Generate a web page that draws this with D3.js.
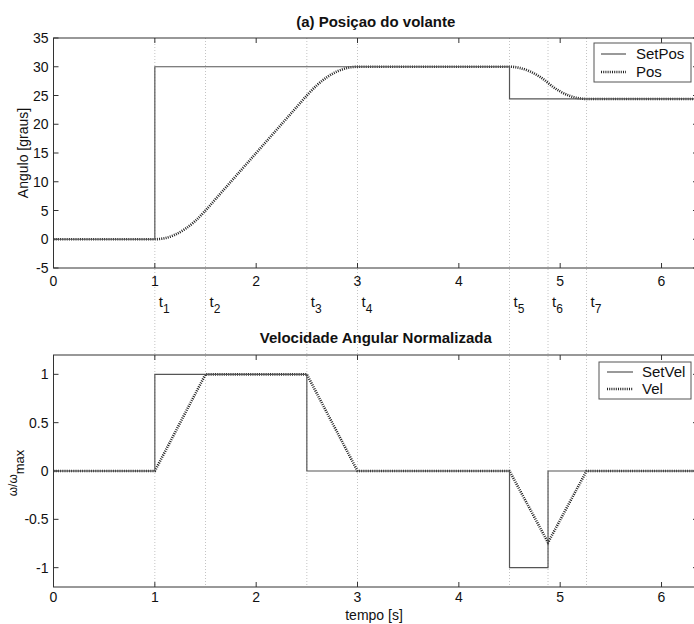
<!DOCTYPE html>
<html><head><meta charset="utf-8">
<script src="https://cdn.jsdelivr.net/npm/d3@7"></script>
<style>body{margin:0;background:#fff}svg{display:block;font-family:"Liberation Sans",Arial,sans-serif}</style>
</head><body><svg id="c" width="694" height="624"></svg>
<script>
// ---- data ----
const xTicks = [0,1,2,3,4,5,6];
const posTicks = [-5,0,5,10,15,20,25,30,35];
const velTicks = [-1,-0.5,0,0.5,1];
const markTimes = [1,1.5,2.5,3,4.5,4.88,5.26];
const markLabels = ["1","2","3","4","5","6","7"];

const setPosTime = [0,1,1,4.5,4.5,6.4];
const setPosVal  = [0,0,30,30,24.4,24.4];
const posTime = [0,1,1.1,1.2,1.3,1.4,1.5,1.6,1.7,1.8,1.9,2.0,2.1,2.2,2.3,2.4,2.5,2.6,2.7,2.8,2.9,3.0,4.5,4.6,4.7,4.8,4.88,4.9,5.0,5.1,5.2,5.26,6.4];
const posVal  = [0,0,0.2,0.8,1.8,3.2,5,7,9,11,13,15,17,19,21,23,25,26.8,28.2,29.2,29.8,30,30,29.8,29.2,28.25,27.2,26.9,25.7,24.9,24.47,24.4,24.4];

const setVelTime = [0,1,1,2.5,2.5,4.5,4.5,4.88,4.88,6.4];
const setVelVal  = [0,0,1,1,0,0,-1,-1,0,0];
const velTime = [0,1,1.5,2.5,3,4.5,4.88,5.26,6.4];
const velVal  = [0,0,1,1,0,0,-0.74,0,0];

const svg = d3.select("#c");
const L = 53.5, R = 698;
const x = d3.scaleLinear().domain([0,6.36]).range([L,R]);
const yTop = d3.scaleLinear().domain([-5,35]).range([268,38]);
const yBot = d3.scaleLinear().domain([-1.2,1.2]).range([587,355]);

const axisColor = "#333";
const fs = 14;

// vertical dotted marks across both panels
svg.append("g").selectAll("line").data(markTimes).join("line")
  .attr("x1",d=>x(d)).attr("x2",d=>x(d)).attr("y1",38).attr("y2",587)
  .attr("stroke","#c4c4c4").attr("stroke-width",1).attr("stroke-dasharray","1,2");

// t labels
const tl = svg.append("g").selectAll("text").data(markTimes).join("text")
  .attr("x",d=>x(d)+4).attr("y",307).attr("font-size",15).attr("fill","#111");
tl.append("tspan").text("t");
tl.append("tspan").attr("dy",6).attr("font-size",12).text((d,i)=>markLabels[i]);

function panel(y, ticks, fmt, top, bottom, labOff){
  const g = svg.append("g");
  g.append("rect").attr("x",L).attr("y",top).attr("width",R-L).attr("height",bottom-top)
    .attr("fill","none").attr("stroke",axisColor).attr("stroke-width",1);
  xTicks.forEach(t=>{
    g.append("line").attr("x1",x(t)).attr("x2",x(t)).attr("y1",bottom).attr("y2",bottom-5).attr("stroke",axisColor);
    g.append("line").attr("x1",x(t)).attr("x2",x(t)).attr("y1",top).attr("y2",top+5).attr("stroke",axisColor);
  });
  ticks.forEach(t=>{
    g.append("line").attr("x1",L).attr("x2",L+5).attr("y1",y(t)).attr("y2",y(t)).attr("stroke",axisColor);
    g.append("line").attr("x1",R).attr("x2",R-5).attr("y1",y(t)).attr("y2",y(t)).attr("stroke",axisColor);
  });
  g.append("g").selectAll("text").data(xTicks).join("text")
    .attr("x",d=>x(d)).attr("y",bottom+labOff).attr("text-anchor","middle").attr("font-size",fs).attr("fill","#111")
    .text(d=>d);
  g.append("g").selectAll("text").data(ticks).join("text")
    .attr("x",L-5).attr("y",d=>y(d)).attr("dy","0.36em").attr("text-anchor","end").attr("font-size",fs).attr("fill","#111")
    .text(fmt);
  return g;
}
panel(yTop, posTicks, d=>d, 38, 268, 18);
panel(yBot, velTicks, d=>String(d), 355, 587, 15);

// clip paths
const defs = svg.append("defs");
defs.append("clipPath").attr("id","cpT").append("rect").attr("x",L).attr("y",38).attr("width",R-L).attr("height",230);
defs.append("clipPath").attr("id","cpB").append("rect").attr("x",L).attr("y",355).attr("width",R-L).attr("height",232);

function drawLine(ts, vs, y, clip, solid, curve){
  const pts = ts.map((t,i)=>[t,vs[i]]);
  const ln = d3.line().x(d=>x(d[0])).y(d=>y(d[1])).curve(curve||d3.curveLinear);
  const p = svg.append("path").attr("clip-path",`url(#${clip})`).attr("d",ln(pts)).attr("fill","none");
  if(solid) p.attr("stroke","#555").attr("stroke-width",1.2);
  else p.attr("stroke","#222").attr("stroke-width",2.6).attr("stroke-dasharray","1,1.2");
}
drawLine(posTime, posVal, yTop, "cpT", false, d3.curveMonotoneX);
drawLine(setPosTime, setPosVal, yTop, "cpT", true);
drawLine(velTime, velVal, yBot, "cpB", false);
drawLine(setVelTime, setVelVal, yBot, "cpB", true);

// titles
svg.append("text").attr("x",(L+R)/2).attr("y",27).attr("text-anchor","middle").attr("font-size",15).attr("font-weight","bold").attr("fill","#111").text("(a) Posiçao do volante");
svg.append("text").attr("x",(L+R)/2).attr("y",343).attr("text-anchor","middle").attr("font-size",15).attr("font-weight","bold").attr("fill","#111").text("Velocidade Angular Normalizada");
svg.append("text").attr("x",374).attr("y",620).attr("text-anchor","middle").attr("font-size",fs).attr("fill","#111").text("tempo [s]");
svg.append("text").attr("transform","translate(28,153) rotate(-90)").attr("text-anchor","middle").attr("font-size",fs).attr("fill","#111").text("Angulo [graus]");
const yl = svg.append("text").attr("transform","translate(17,473) rotate(-90)").attr("text-anchor","middle").attr("fill","#111").attr("font-size",12);
yl.append("tspan").text("ω/ω");
yl.append("tspan").attr("dy",7).attr("font-size",13).text("max");

// legends
function legend(x0,y0,w,h,items,lx0,lx1,tx){
  const g = svg.append("g");
  g.append("rect").attr("x",x0).attr("y",y0).attr("width",w).attr("height",h).attr("fill","#fff").attr("stroke","#555");
  items.forEach(it=>{
    const l = g.append("line").attr("x1",lx0).attr("x2",lx1).attr("y1",it.y).attr("y2",it.y);
    if(it.solid) l.attr("stroke","#555").attr("stroke-width",1.2);
    else l.attr("stroke","#222").attr("stroke-width",2.6).attr("stroke-dasharray","1,1.2");
    g.append("text").attr("x",tx).attr("y",it.y).attr("dy","0.36em").attr("font-size",fs+1).attr("fill","#111").text(it.name);
  });
}
legend(594,43,97,39,[{name:"SetPos",y:54,solid:true},{name:"Pos",y:72,solid:false}],601,626,636);
legend(599,362,92,37,[{name:"SetVel",y:372,solid:true},{name:"Vel",y:389,solid:false}],607,633,642);
</script></body></html>
